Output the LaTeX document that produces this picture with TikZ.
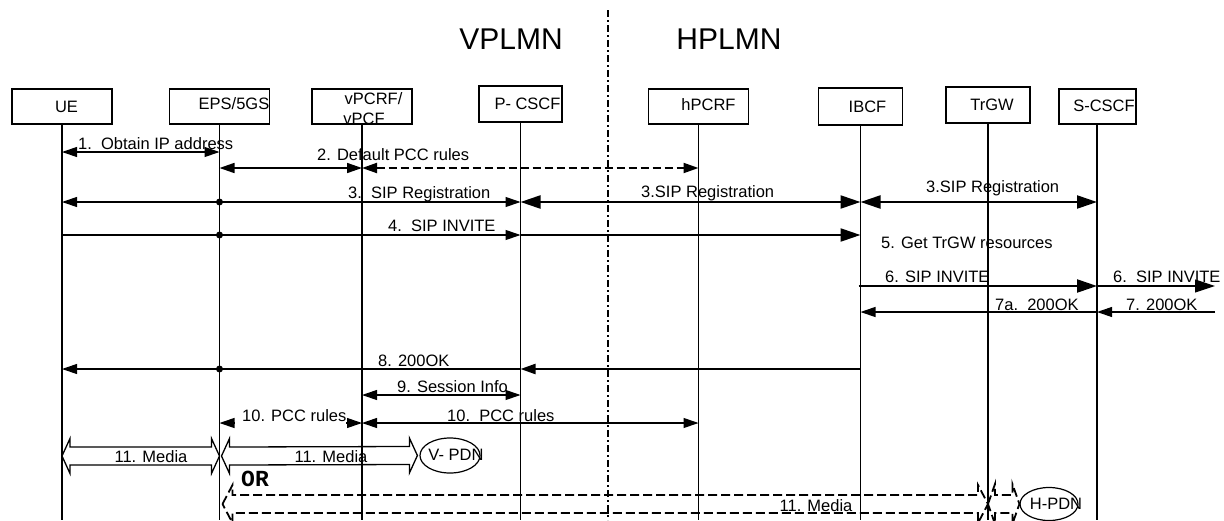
\documentclass[tikz,border=0pt]{standalone}
\usepackage{fontspec}
\setmainfont{Liberation Sans}
\newfontfamily\monofont{Liberation Mono}
\usetikzlibrary{arrows.meta,calc,shapes.geometric}
\tikzset{
  tipS/.tip={Triangle[length=15pt,width=10pt]},
  tipL/.tip={Triangle[length=20pt,width=13pt]},
  box/.style={draw, line width=1.2pt, minimum width=100pt, minimum height=35pt, inner sep=0pt},
  boxtxt/.style={inner sep=0pt, text height=11.5pt, text depth=0pt, anchor=center},
  txt/.style={inner sep=0pt, text height=11.5pt, text depth=0pt, anchor=west},
  ctxt/.style={inner sep=0pt, text height=11.5pt, text depth=0pt, anchor=center},
  life/.style={line width=1.3pt},
  thinmsg/.style={line width=1.1pt},
  medmsg/.style={line width=1.6pt},
  thickmsg/.style={line width=2.2pt},
  dashmsg/.style={line width=2pt, dash pattern=on 8pt off 4pt},
  hollow/.style={line width=1.3pt},
  hollowdash/.style={line width=1.8pt, dash pattern=on 9pt off 4pt},
  junction/.style={fill, circle, inner sep=0pt, minimum size=7pt},
  pdn/.style={draw, ellipse, line width=1.2pt, inner sep=0pt},
}
% #1 style, #2 left tip, #3 right tip, #4 head length, #5 head half width, #6 shaft half width
\newcommand\hollowarrow[6]{%
  \draw[#1] (#2) -- ++(#4,-#5) -- ++(0,{#5-#6}) -- ($(#3)+(-#4,-#6)$) -- ++(0,{#6-#5})
    -- (#3) -- ++(-#4,#5) -- ++(0,{#6-#5}) -- ($(#2)+(#4,#6)$) -- ++(0,{#5-#6}) -- cycle;}
\begin{document}
\begin{tikzpicture}[x=1pt, y=-1pt, font=\fontsize{16.5}{18}\selectfont]
\useasboundingbox (0,0) rectangle (1224,520);

% region labels and boundary
\node[inner sep=0pt, text height=21pt, text depth=0pt, font=\fontsize{30}{34}\selectfont] (vplmn) at (511,39) {VPLMN};
\node[inner sep=0pt, text height=21pt, text depth=0pt, font=\fontsize{30}{34}\selectfont] (hplmn) at (729,39) {HPLMN};
\draw[line width=2pt, dash pattern=on 7pt off 3pt on 2pt off 3pt] (608,10) -- (608,520);

% entity boxes
\node[box] (ue) at (62,106.5) {};
\node[box] (eps) at (219.5,106.5) {};
\node[box] (vp) at (362,106.5) {};
\node[box, minimum width=83pt, minimum height=36pt] (pc) at (520.5,104) {};
\node[box] (hp) at (698.5,106.5) {};
\node[box, minimum width=84pt, minimum height=37pt] (ib) at (860.5,106.5) {};
\node[box, minimum width=84pt, minimum height=36pt] (tr) at (988,105) {};
\node[box, minimum width=77pt, minimum height=35pt, line width=2pt] (sc) at (1097,106.5) {};

\node[boxtxt] (uet) at (66.5,106.5) {UE};
\node[boxtxt] (epst) at (234,104) {EPS/5GS};
\node[boxtxt] (vpt1) at (373.5,98.5) {vPCRF/};
\node[boxtxt] (vpt2) at (364,118.5) {vPCF};
\node[boxtxt] (pct) at (527.5,104) {P- CSCF};
\node[boxtxt] (hpt) at (708.5,105) {hPCRF};
\node[boxtxt] (ibt) at (867.5,107) {IBCF};
\node[boxtxt] (trt) at (992,104.5) {TrGW};
\node[boxtxt] (sct) at (1104,106) {S-CSCF};

% lifelines
\coordinate (bot) at (0,520);
\foreach \n in {ue,eps,vp,pc,hp,ib,tr,sc}
  \draw[life] (\n.south) -- (\n.south |- bot);

% message rows
\coordinate (m1) at (0,152);
\coordinate (m2) at (0,168);
\coordinate (m3) at (0,202);
\coordinate (m4) at (0,235);
\coordinate (m6) at (0,286);
\coordinate (m7) at (0,312);
\coordinate (m8) at (0,369);
\coordinate (m9) at (0,395);
\coordinate (m10) at (0,423);
\coordinate (m11) at (0,456);
\coordinate (m12) at (0,504);
\coordinate (redge) at (1215,0);

% 1
\draw[thinmsg, {tipS}-{tipS}] (ue |- m1) -- (eps |- m1);
\node[txt] (l1) at (78,143.5) {1.\ \ Obtain IP address};
% 2
\draw[medmsg, {tipS}-{tipS}] (eps |- m2) -- (vp |- m2);
\draw[dashmsg, {tipS}-{tipS}] (vp |- m2) -- (hp |- m2);
\node[txt] (l2) at (317,155) {2. Default PCC rules};
% 3
\draw[thinmsg, {tipS}-{tipS}] (ue |- m3) -- (pc |- m3);
\node[junction] (j3) at (eps |- m3) {};
\draw[thickmsg, {tipL}-{tipL}] (pc |- m3) -- (ib |- m3);
\draw[thickmsg, {tipL}-{tipL}] (ib |- m3) -- (sc |- m3);
\node[txt] (l3a) at (348,193) {3.\ \ SIP Registration};
\node[txt] (l3b) at (641,192) {3.SIP Registration};
\node[txt] (l3c) at (926,187) {3.SIP Registration};
% 4
\draw[thinmsg, -{tipS}] (ue |- m4) -- (pc |- m4);
\node[junction] (j4) at (eps |- m4) {};
\draw[thickmsg, -{tipL}] (pc |- m4) -- (ib |- m4);
\node[txt] (l4) at (388,226) {4.\ \ SIP INVITE};
% 5
\node[txt] (l5) at (881,243) {5. Get TrGW resources};
% 6
\draw[thickmsg, -{tipL}] ($(ib |- m6)+(-2,0)$) -- (sc |- m6);
\draw[thinmsg, -{tipL}] (sc |- m6) -- (redge |- m6);
\node[txt] (l6a) at (885,277) {6. SIP INVITE};
\node[txt] (l6b) at (1113,277) {6.\ \ SIP INVITE};
% 7
\draw[thinmsg, -{tipS}] (redge |- m7) -- (sc |- m7);
\draw[thinmsg, -{tipS}] (sc |- m7) -- (ib |- m7);
\node[txt] (l7a) at (995,305) {7a.\ \ 200OK};
\node[txt] (l7) at (1126,305) {7. 200OK};
% 8
\draw[thickmsg, -{tipS}] (ib |- m8) -- (pc |- m8);
\draw[thinmsg, -{tipS}] (pc |- m8) -- (ue |- m8);
\node[junction] (j8) at (eps |- m8) {};
\node[txt] (l8) at (378,361) {8. 200OK};
% 9
\draw[thinmsg, {tipS}-{tipS}] (vp |- m9) -- (pc |- m9);
\node[txt] (l9) at (397,387) {9. Session Info};
% 10
\draw[thinmsg, {tipS}-{tipS}] (eps |- m10) -- (vp |- m10);
\fill[white] (235,416) rectangle (346,429);
\node[txt] (l10a) at (242,415.5) {10. PCC rules};
\draw[thinmsg, {tipS}-{tipS}] (vp |- m10) -- (hp |- m10);
\node[txt] (l10b) at (447,416) {10.\ \ PCC rules};

% 11 media
\node[pdn, minimum width=60pt, minimum height=35pt] (vpdn) at (450,455.5) {};
\node[ctxt] (vpdnt) at (456,454.5) {V- PDN};
\coordinate (a1) at (ue |- m11);
\coordinate (a2) at (eps |- m11);
\coordinate (a3) at ($(eps |- m11)+(2,0)$);
\coordinate (a4) at ($(vpdn.west)+(-2,0)$);
\hollowarrow{hollow}{a1}{a2}{8}{17.5}{9}
\hollowarrow{hollow}{a3}{a4}{8}{17.5}{9}
\node[ctxt] (l11a) at (151,456.5) {11. Media};
\node[ctxt] (l11b) at (331,456.5) {11. Media};

\node[inner sep=0pt, text height=13pt, text depth=0pt, anchor=west, font=\fontsize{23}{26}\monofont\bfseries] (or) at (241,480) {OR};

\node[pdn, minimum width=58pt, minimum height=33pt] (hpdn) at (1049,504) {};
\node[ctxt] (hpdnt) at (1056,503.5) {H-PDN};
\coordinate (b1) at ($(eps |- m12)+(3,0)$);
\coordinate (b2) at (tr |- m12);
\coordinate (b3) at (hpdn.west);
\hollowarrow{hollowdash}{b1}{b2}{10}{19}{9}
\hollowarrow{hollowdash}{b2}{b3}{7}{20}{9}
\node[ctxt] (l11c) at (816,505.5) {11. Media};
\end{tikzpicture}
\end{document}
